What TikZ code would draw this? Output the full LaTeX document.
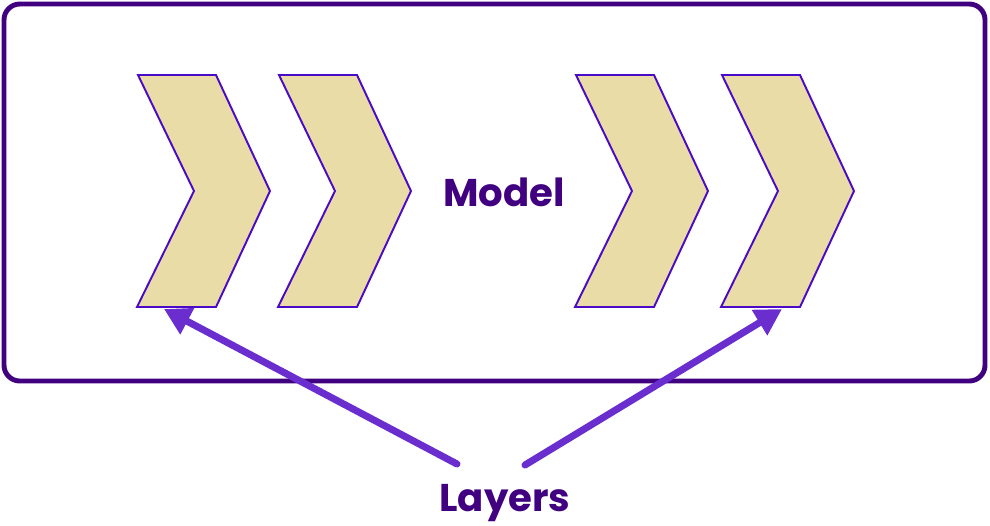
\documentclass[tikz,border=0pt]{standalone}
\usepackage{fontspec}
\setmainfont{Poppins}
\usepackage{tikz}
\definecolor{framepurple}{RGB}{64, 0, 128}
\definecolor{layeredge}{RGB}{75, 10, 200}
\definecolor{layerfill}{RGB}{234, 220, 166}
\definecolor{arrowpurple}{RGB}{106, 46, 207}
\usetikzlibrary{arrows.meta, calc}

\tikzset{
    layer/.style={draw=layeredge, fill=layerfill, line width=1.1pt},
    bigtext/.style={text=framepurple, anchor=base, font=\fontsize{22}{26}\selectfont\bfseries},
    pointer/.style={draw=arrowpurple, line width=4pt, line cap=round,
                    -{Triangle[length=15pt, width=16pt]}}
}

\begin{document}
\begin{tikzpicture}[x=0.02cm, y=-0.02cm]
    \useasboundingbox (0,0) rectangle (990,525);
    \draw[framepurple, line width=2.8pt, rounded corners=9pt] (4,4) rectangle (985,381);
    % the four layers, by left edge
    \foreach \x in {138, 279, 576, 722} {
        \draw[layer] (\x,75) -- ++(78,0) -- ++(54,116) -- ++(-54,116)
            -- ++(-79,0) -- ++(57,-116) -- cycle;
    }
    \node[bigtext] (model) at (504,206) {Model};
    \node[bigtext] (layers) at (505,511) {Layers};
    \coordinate (first) at (164,309);
    \coordinate (last) at (782,309);
    \coordinate (fromL) at (457,464);
    \coordinate (fromR) at (525,465);
    \draw[pointer] (fromL) -- (first);
    \draw[pointer] (fromR) -- (last);
\end{tikzpicture}
\end{document}
